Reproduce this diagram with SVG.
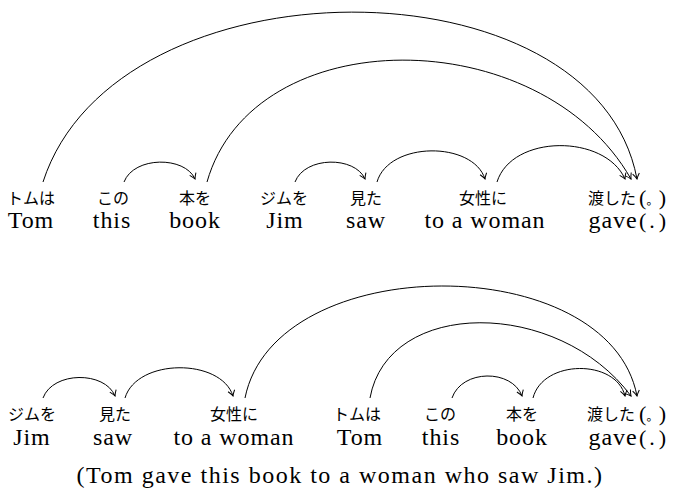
<svg xmlns="http://www.w3.org/2000/svg" width="674" height="495" viewBox="0 0 674 495">
<style>
  .jp { font-family: "Noto Sans CJK JP", "Noto Sans", sans-serif; font-size: 16px; fill: #000; text-anchor: middle; }
  .en { font-family: "Liberation Serif", serif; font-size: 24px; fill: #000; text-anchor: middle; letter-spacing: 0.9px; }
  .pr { font-family: "Liberation Serif", serif; font-size: 22px; fill: #000; }
  .cap { font-family: "Liberation Serif", serif; font-size: 24px; fill: #000; text-anchor: middle; letter-spacing: 1.5px; }
  .dot { font-family: "Noto Sans CJK JP", sans-serif; font-size: 12px; fill: #000; }
  .arc { fill: none; stroke: #000; stroke-width: 1; marker-end: url(#arr); }
</style>
<defs>
  <marker id="arr" viewBox="-7 -5 8 10" refX="0" refY="0" markerWidth="8" markerHeight="10" markerUnits="userSpaceOnUse" orient="auto">
    <path d="M-5.5,-3.4 Q-2,-0.8 0,0 Q-2,0.8 -5.5,3.4" fill="none" stroke="#000" stroke-width="1"/>
  </marker>
</defs>
<rect width="674" height="495" fill="#fff"/>

<g id="connectors">
  <path class="arc" d="M43,182 C116,-44 595,-44 637,179"/>
  <path class="arc" d="M207,182 C253,20 540,20 631,179"/>
  <path class="arc" d="M497,182 C512,134 605,134 625,179"/>
  <path class="arc" d="M124,182 C134,156 185,156 195,179"/>
  <path class="arc" d="M295,182 C305,156 355,156 365,179"/>
  <path class="arc" d="M377,182 C389,141 473,141 485,179"/>

  <path class="arc" d="M43,398 C53,371 105,371 115,396"/>
  <path class="arc" d="M125,398 C137,358 221,358 233,396"/>
  <path class="arc" d="M245,398 C275,249 609,249 637,396"/>
  <path class="arc" d="M370,398 C388,298 558,298 631,396"/>
  <path class="arc" d="M452,398 C462,369 512,369 522,396"/>
  <path class="arc" d="M533,398 C543,359 616,359 625,396"/>
</g>

<g id="top-tom"><text class="jp" x="31" y="203.5">トムは</text><text class="en" x="31" y="228">Tom</text></g>
<g id="top-this"><text class="jp" x="113" y="203.5">この</text><text class="en" x="112" y="228">this</text></g>
<g id="top-book"><text class="jp" x="195" y="203.5">本を</text><text class="en" x="195" y="228">book</text></g>
<g id="top-jim"><text class="jp" x="284" y="203.5">ジムを</text><text class="en" x="285" y="228">Jim</text></g>
<g id="top-saw"><text class="jp" x="366" y="203.5">見た</text><text class="en" x="366" y="228">saw</text></g>
<g id="top-woman"><text class="jp" x="483" y="203.5">女性に</text><text class="en" x="485" y="228">to a woman</text></g>
<g id="top-gave"><text class="jp" x="612" y="203.5">渡した</text><text class="en" x="613" y="228">gave</text></g>
<g id="top-period">
  <text class="pr" x="639" y="205">(</text><text class="dot" x="646.5" y="205">。</text><text class="pr" x="666" y="205" text-anchor="end">)</text>
  <text class="pr" x="639" y="228">(</text><text class="pr" x="652" y="228" text-anchor="middle">.</text><text class="pr" x="666" y="228" text-anchor="end">)</text>
</g>

<g id="bot-jim"><text class="jp" x="32" y="419.5">ジムを</text><text class="en" x="32" y="445">Jim</text></g>
<g id="bot-saw"><text class="jp" x="115" y="419.5">見た</text><text class="en" x="113" y="445">saw</text></g>
<g id="bot-woman"><text class="jp" x="234" y="419.5">女性に</text><text class="en" x="234" y="445">to a woman</text></g>
<g id="bot-tom"><text class="jp" x="357" y="419.5">トムは</text><text class="en" x="360" y="445">Tom</text></g>
<g id="bot-this"><text class="jp" x="440" y="419.5">この</text><text class="en" x="441" y="445">this</text></g>
<g id="bot-book"><text class="jp" x="522" y="419.5">本を</text><text class="en" x="522" y="445">book</text></g>
<g id="bot-gave"><text class="jp" x="611" y="419.5">渡した</text><text class="en" x="613" y="445">gave</text></g>
<g id="bot-period">
  <text class="pr" x="639" y="421">(</text><text class="dot" x="646.5" y="421">。</text><text class="pr" x="666" y="421" text-anchor="end">)</text>
  <text class="pr" x="639" y="445">(</text><text class="pr" x="652" y="445" text-anchor="middle">.</text><text class="pr" x="666" y="445" text-anchor="end">)</text>
</g>

<text id="caption" class="cap" x="340" y="483">(Tom gave this book to a woman who saw Jim.)</text>
</svg>
